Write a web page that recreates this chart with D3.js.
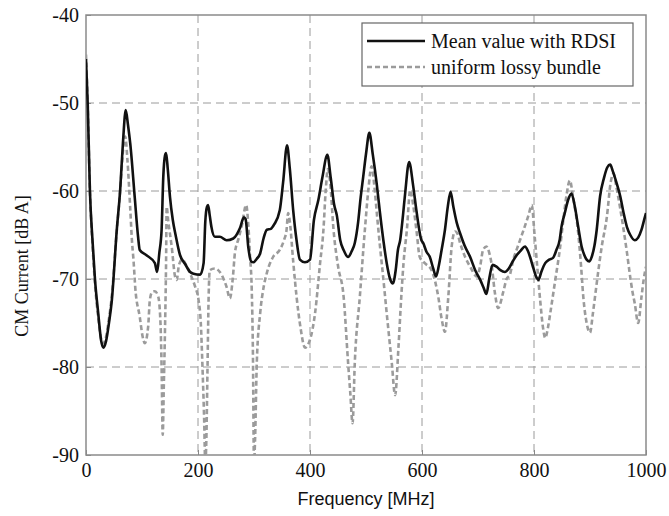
<!DOCTYPE html>
<html>
<head>
<meta charset="utf-8">
<script src="https://cdn.jsdelivr.net/npm/d3@7"></script>
<style>
  html, body { margin: 0; padding: 0; background: #fff; }
  svg { display: block; }
</style>
</head>
<body>
<svg id="chart" width="669" height="516"></svg>
<script>
// ---- data ----
const xTicks = [0, 200, 400, 600, 800, 1000];
const yTicks = [-90, -80, -70, -60, -50, -40];
const seriesNames = ["Mean value with RDSI", "uniform lossy bundle"];

const freqMean = [0,3,7,12,16,22,27,31,36,41,46,55,61,66,71,75,79,87,93,96,108,123,127,131,135,138,141,143,146,150,155,160,168,177,186,192,204,210,213,216,218,221,224,230,239,251,263,275,282,285,290,295,299,305,311,317,323,330,336,346,352,359,364,370,376,382,391,400,407,415,422,431,437,443,448,454,460,468,474,480,486,490,495,500,506,512,519,525,531,537,543,548,553,557,561,566,570,577,584,590,599,602,608,614,620,625,630,635,641,646,651,656,662,668,676,686,695,704,710,715,720,726,733,740,748,755,762,769,776,784,789,793,799,805,808,813,820,827,834,840,846,849,855,861,867,873,879,885,890,894,899,903,908,912,918,925,931,936,941,947,954,960,966,972,980,986,992,997,1000];
const valMean = [-45,-50,-60,-66,-70,-74,-77,-77.8,-77,-75,-72.5,-64.4,-59.9,-54.5,-50.8,-52.5,-54.6,-60.7,-65.2,-66.7,-67.3,-68.2,-69.2,-67,-64.4,-58.4,-56,-55.7,-57.5,-60.7,-63.3,-65,-67.3,-68.3,-69.2,-69.4,-69.5,-68.2,-63.5,-61.8,-61.6,-62.8,-64.1,-65.2,-65.2,-65.6,-65.4,-64.2,-63,-63.2,-66.5,-68,-68.1,-67.7,-67.1,-65.4,-64.4,-64.3,-63.8,-62.2,-59,-54.8,-57.5,-62.2,-65.6,-67.8,-68.1,-67.8,-63.3,-61,-58.5,-55.9,-58.5,-61.5,-62.8,-65.6,-66.7,-67.5,-66.9,-65.9,-63.5,-61,-58.4,-55.8,-53.4,-55.8,-59.1,-62.5,-65.6,-68.2,-70,-70.5,-69,-66.7,-65.6,-62.8,-60.2,-56.7,-59.3,-62.2,-65.6,-65.9,-66.9,-67.5,-68.8,-69.7,-68.5,-66.7,-64.4,-61.8,-60.1,-61.8,-63.6,-64.8,-66.2,-67.5,-69,-70.1,-71,-71.7,-70,-68.4,-68.6,-69,-69.2,-68.8,-68,-67.3,-66.8,-66.3,-66.8,-67.5,-68.8,-69.9,-70.1,-69.2,-68.2,-67.8,-67.6,-66.7,-65.5,-64.1,-62.5,-61,-60.3,-61.8,-64.1,-66.3,-67.3,-67.8,-68,-67.5,-66.2,-64.4,-60.6,-58.5,-57.3,-57,-57.8,-59,-60.6,-62.5,-64.1,-65,-65.6,-65.3,-64.4,-63.2,-62.5];

const freqBundle = [0,3,7,12,16,22,27,31,36,41,46,55,61,66,70,74,79,82,85,88,96,101,105,111,114,118,123,129,133,135,137,139,141,143,144,147,153,159,162,166,172,180,186,195,201,205,208,211,213,215,217,219,221,230,242,251,257,262,266,272,278,286,290,293,296,298,300,302,305,311,317,323,334,346,354,358,361,364,370,376,383,391,400,409,418,424,428,432,436,442,450,460,468,472,476,480,489,498,504,510,515,520,525,531,537,546,552,558,563,567,573,579,584,590,596,605,617,629,635,641,647,653,659,663,668,677,686,698,704,709,715,720,724,730,736,745,751,757,763,770,781,790,796,801,805,811,816,820,825,829,838,846,852,858,864,870,879,884,888,894,900,905,909,915,921,930,937,942,947,954,960,966,971,976,980,986,992,996,1000];
const valBundle = [-44.5,-50,-60,-66.5,-70.5,-74.5,-76.8,-77.3,-76.5,-74.5,-72,-64.5,-60,-55.5,-53.8,-56.5,-62,-65.6,-68,-71,-74.3,-76.5,-77.3,-75.4,-72.4,-71.5,-71.4,-72,-75,-80,-87.7,-82,-76,-68,-61.8,-63.5,-66.3,-69.7,-70.1,-68.4,-67.8,-68.6,-69.4,-70.9,-72.4,-75,-80,-86,-91,-88,-80,-72,-69,-68.8,-69.5,-70.9,-72.2,-70,-67,-65.5,-64,-61.6,-64,-67.5,-71.3,-78,-91,-88,-79.5,-73.9,-71,-69.3,-67.5,-66.7,-65.5,-64.5,-62.5,-63.5,-68,-72,-75.5,-77.8,-76.9,-73.9,-68.2,-64.4,-60,-57.5,-59,-64.4,-68.5,-72,-79.5,-83,-86.4,-79.5,-72,-64.4,-60,-57.2,-59.5,-63,-66.3,-70,-73.9,-79.5,-83.2,-77.7,-72,-68.2,-64.4,-59.9,-61.5,-64.4,-67.5,-68.2,-69,-72,-74.5,-76,-72,-66.3,-64.6,-64.8,-65.9,-67.5,-68.6,-69.7,-68.5,-66.7,-66.3,-67,-68.2,-71.5,-73.3,-71.5,-70,-69.5,-67.8,-66.5,-64.5,-62.8,-61.6,-65,-68,-72.4,-75.5,-76.7,-75.5,-73.9,-70.1,-66.7,-63.5,-60.5,-58.8,-60.8,-64.8,-68.5,-72,-75,-76.1,-74,-72,-69,-66.3,-63,-59,-58,-59.5,-62,-64.4,-67,-69.4,-71.5,-72.8,-75,-72,-70,-68.6];

// ---- chart ----
const svg = d3.select("#chart");
const pLeft = 86, pRight = 646, pTop = 15, pBottom = 455;
const x = d3.scaleLinear().domain([0, 1000]).range([pLeft, pRight]);
const y = d3.scaleLinear().domain([-90, -40]).range([pBottom, pTop]);

svg.append("rect").attr("width", 669).attr("height", 516).attr("fill", "#fff");

svg.append("defs").append("clipPath").attr("id", "clip")
  .append("rect").attr("x", pLeft).attr("y", pTop).attr("width", pRight - pLeft).attr("height", pBottom - pTop);

// grid
const grid = svg.append("g").attr("stroke", "#9a9a9a").attr("stroke-width", 1).attr("stroke-dasharray", "8,5");
grid.selectAll("line.gx").data(xTicks.slice(1, -1)).join("line").attr("class", "gx")
  .attr("x1", d => x(d)).attr("x2", d => x(d)).attr("y1", pTop).attr("y2", pBottom);
grid.selectAll("line.gy").data(yTicks.slice(1, -1)).join("line").attr("class", "gy")
  .attr("y1", d => y(d)).attr("y2", d => y(d)).attr("x1", pLeft).attr("x2", pRight);

// axes
const fmt = d => String(d);
const xAxis = d3.axisBottom(x).tickValues(xTicks).tickFormat(fmt).tickSizeInner(-5).tickSizeOuter(0).tickPadding(8);
const yAxis = d3.axisLeft(y).tickValues(yTicks).tickFormat(fmt).tickSizeInner(-5).tickSizeOuter(0).tickPadding(7);
const gx = svg.append("g").attr("transform", `translate(0,${pBottom})`).call(xAxis);
const gy = svg.append("g").attr("transform", `translate(${pLeft},0)`).call(yAxis);
[gx, gy].forEach(g => {
  g.select(".domain").remove();
  g.selectAll(".tick line").attr("stroke", "#888");
  g.selectAll(".tick text").attr("font-family", "'Liberation Serif', 'Times New Roman', serif")
    .attr("font-size", 20).attr("fill", "#111");
});

// frame
svg.append("rect").attr("x", pLeft).attr("y", pTop).attr("width", pRight - pLeft).attr("height", pBottom - pTop)
  .attr("fill", "none").attr("stroke", "#8a8a8a").attr("stroke-width", 1.5);

// lines
const line = d3.line().x(d => x(d[0])).y(d => y(d[1])).curve(d3.curveMonotoneX);
const meanData = freqMean.map((f, i) => [f, valMean[i]]);
const bundleData = freqBundle.map((f, i) => [f, valBundle[i]]);
const plot = svg.append("g").attr("clip-path", "url(#clip)");
plot.append("path").datum(bundleData).attr("d", line).attr("fill", "none")
  .attr("stroke", "#9b9b9b").attr("stroke-width", 2.6).attr("stroke-dasharray", "5,3");
plot.append("path").datum(meanData).attr("d", line).attr("fill", "none")
  .attr("stroke", "#111").attr("stroke-width", 2.6).attr("stroke-linejoin", "round");

// legend
const lg = svg.append("g");
lg.append("rect").attr("x", 362).attr("y", 23).attr("width", 271).attr("height", 63)
  .attr("fill", "#fff").attr("stroke", "#666").attr("stroke-width", 1.2);
const legendStyles = [
  { stroke: "#111", dash: null },
  { stroke: "#9b9b9b", dash: "5,3" }
];
seriesNames.forEach((name, i) => {
  const yy = 41 + i * 26;
  lg.append("line").attr("x1", 367).attr("x2", 425).attr("y1", yy).attr("y2", yy)
    .attr("stroke", legendStyles[i].stroke).attr("stroke-width", 2.6)
    .attr("stroke-dasharray", legendStyles[i].dash);
  lg.append("text").attr("x", 431).attr("y", yy + 7).text(name)
    .attr("font-family", "'Liberation Serif', 'Times New Roman', serif")
    .attr("font-size", 20).attr("fill", "#111");
});

// axis titles
svg.append("text").attr("x", (pLeft + pRight) / 2).attr("y", 505).attr("text-anchor", "middle")
  .attr("font-family", "'Liberation Sans', Arial, sans-serif").attr("font-size", 18).attr("fill", "#111")
  .text("Frequency [MHz]");
svg.append("text").attr("transform", `translate(28,266) rotate(-90)`).attr("text-anchor", "middle")
  .attr("font-family", "'Liberation Serif', 'Times New Roman', serif").attr("font-size", 18).attr("fill", "#111")
  .text("CM Current [dB A]");
</script>
</body>
</html>
